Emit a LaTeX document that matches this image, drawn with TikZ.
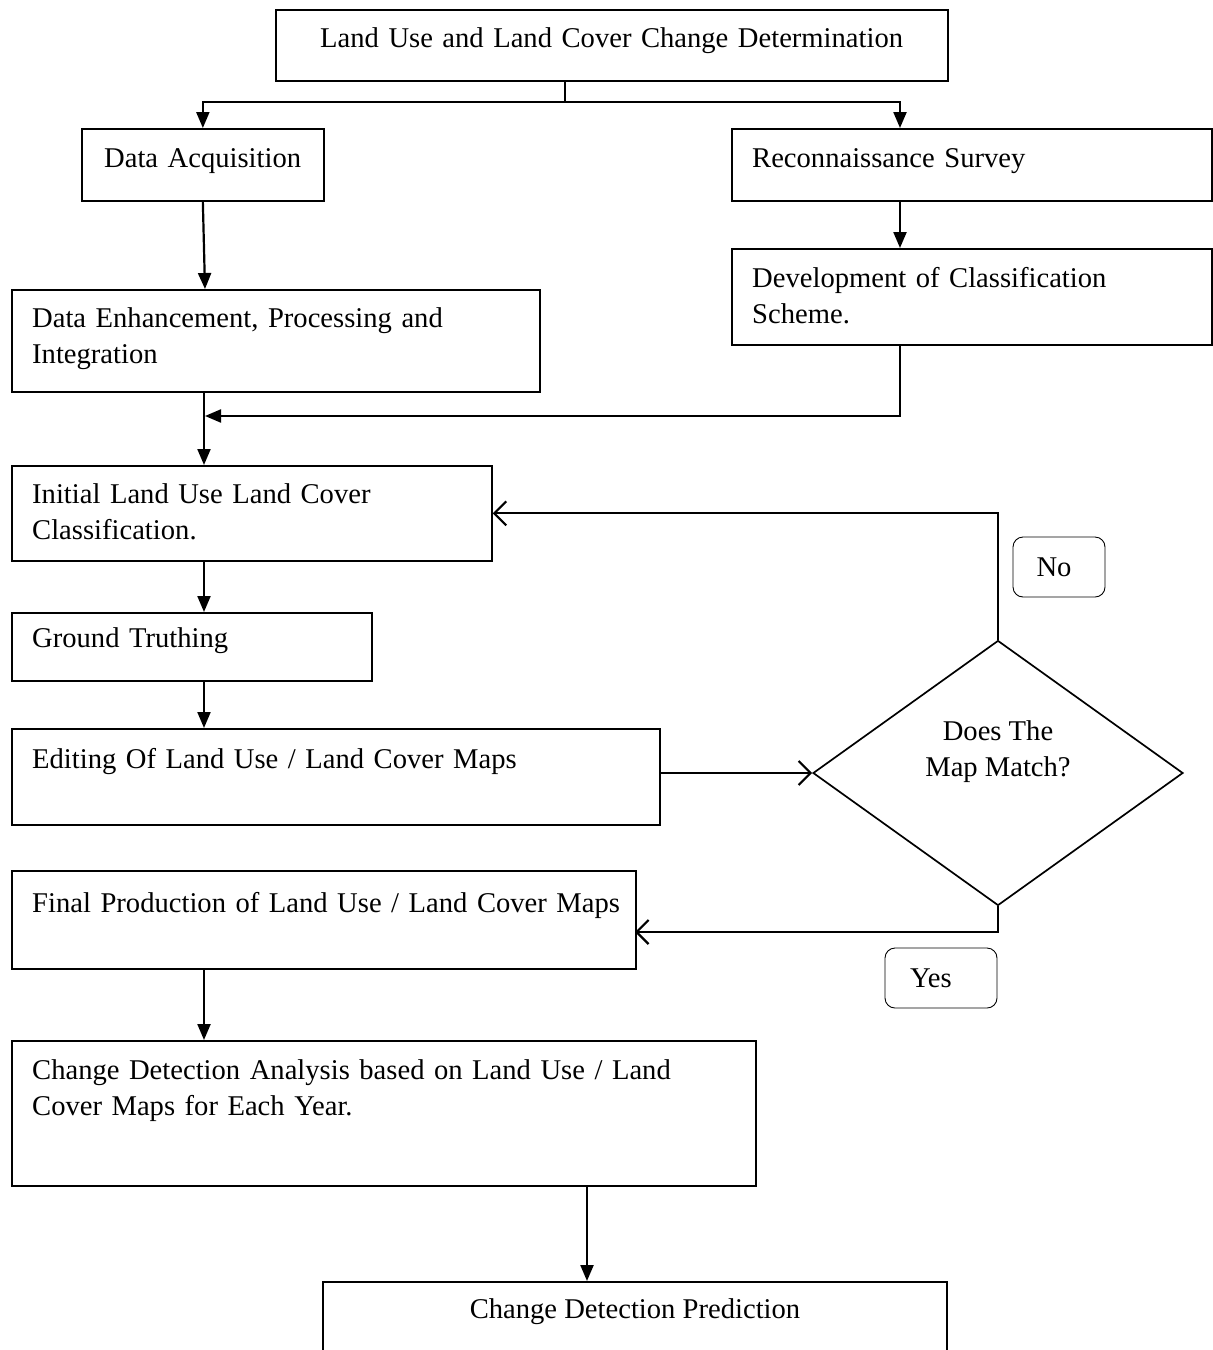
\documentclass[tikz,border=0pt]{standalone}
\usepackage{fontspec}
\setmainfont{Liberation Serif}
\usetikzlibrary{arrows.meta,shapes.geometric}
\begin{document}
\begin{tikzpicture}[x=1pt,y=-1pt,
  box/.style={draw, line width=1.7pt, rectangle, inner sep=0pt, anchor=north west},
  txt/.style={anchor=base west, inner sep=0pt, font=\fontsize{28.6}{36}\selectfont, align=left, text width=740pt},
  ctxt/.style={anchor=base, inner sep=0pt, font=\fontsize{28.6}{36}\selectfont},
  plain/.style={line width=2pt},
  conn/.style={line width=2.2pt, -{Triangle[length=16pt,width=13pt]}},
  oconn/.style={line width=2.2pt, -{Straight Barb[length=12pt,width=24pt,line width=2.2pt]}},
  tag/.style={draw, rounded corners=10pt, line width=0.9pt, inner sep=0pt, font=\fontsize{28.6}{36}\selectfont}]
\useasboundingbox (0,0) rectangle (1213,1350);
\clip (0,0) rectangle (1213,1350);

% boxes
\node[box, minimum width=672pt, minimum height=71pt] (title) at (275,9) {};
\node[box, minimum width=242pt, minimum height=72pt] (acq) at (81,128) {};
\node[box, minimum width=480pt, minimum height=72pt] (rec) at (731,128) {};
\node[box, minimum width=480pt, minimum height=96pt] (dev) at (731,248) {};
\node[box, minimum width=528pt, minimum height=102pt] (enh) at (11,289) {};
\node[box, minimum width=480pt, minimum height=95pt] (init) at (11,465) {};
\node[box, minimum width=360pt, minimum height=68pt] (ground) at (11,612) {};
\node[box, minimum width=648pt, minimum height=96pt] (edit) at (11,728) {};
\node[box, minimum width=624pt, minimum height=98pt] (final) at (11,870) {};
\node[box, minimum width=744pt, minimum height=145pt] (cda) at (11,1040) {};
\node[box, minimum width=624pt, minimum height=110pt] (pred) at (322,1281) {};
\node[draw, diamond, minimum width=370pt, minimum height=265pt, inner sep=0pt, line width=1.7pt] (dec) at (998,773) {};
\node[tag, minimum width=92pt, minimum height=60pt] (no) at (1059,567) {No\hspace*{10pt}};
\node[tag, minimum width=112pt, minimum height=60pt] (yes) at (941,978) {Yes\hspace*{20pt}};

% texts
\node[txt] (ttitle) at (320,47) {Land Use and Land Cover Change Determination};
\node[txt] (tacq) at (104,167) {Data Acquisition};
\node[txt] (trec) at (752,167) {Reconnaissance Survey};
\node[txt] (tdev) at (752,287) {Development of Classification\\Scheme.};
\node[txt] (tenh) at (32,327) {Data Enhancement, Processing and\\Integration};
\node[txt] (tinit) at (32,503) {Initial Land Use Land Cover\\Classification.};
\node[txt] (tground) at (32,647) {Ground Truthing};
\node[txt] (tedit) at (32,768) {Editing Of Land Use / Land Cover Maps};
\node[ctxt] (tdec1) at (998,740) {Does The};
\node[ctxt] (tdec2) at (998,776) {Map Match?};
\node[txt] (tfinal) at (32,912) {Final Production of Land Use / Land Cover Maps};
\node[txt] (tcda) at (32,1079) {Change Detection Analysis based on Land Use / Land\\Cover Maps for Each Year.};
\node[ctxt] (tpred) at (635,1318) {Change Detection Prediction};

% connector points
\coordinate (split) at (565,102);
\coordinate (recin) at (900,128);
\coordinate (merge) at (205,416);
\coordinate (fin) at (635,932);

% connectors
\draw[plain] (title.south -| split) -- (split);
\draw[conn] (split) -| (acq.north);
\draw[conn] (split) -| (recin);
\draw[conn] (acq.south) -- ([xshift=194pt]enh.north west);
\draw[conn] ([xshift=169pt]rec.south west) -- ([xshift=169pt]dev.north west);
\draw[conn] ([xshift=169pt]dev.south west) |- (merge);
\draw[conn] ([xshift=193pt]enh.south west) -- ([xshift=193pt]init.north west);
\draw[conn] ([xshift=193pt]init.south west) -- ([xshift=193pt]ground.north west);
\draw[conn] ([xshift=193pt]ground.south west) -- ([xshift=193pt]edit.north west);
\draw[oconn] (edit.east |- dec.west) -- (dec.west);
\draw[oconn] (dec.north) |- (init.east);
\draw[oconn] (dec.south) |- (fin);
\draw[conn] ([xshift=193pt]final.south west) -- ([xshift=193pt]cda.north west);
\draw[conn] ([xshift=576pt]cda.south west) -- ([xshift=265pt]pred.north west);
\end{tikzpicture}
\end{document}
